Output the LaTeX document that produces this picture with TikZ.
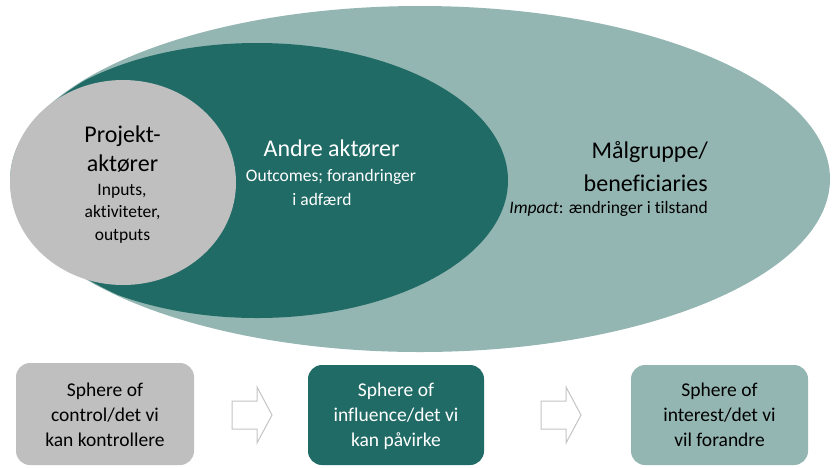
\documentclass[tikz,border=0pt]{standalone}
\usepackage{fontspec}
\setmainfont{Carlito}[Ligatures=NoCommon]
\definecolor{lightteal}{HTML}{93B6B2}
\definecolor{darkteal}{HTML}{216B66}
\definecolor{greyfill}{HTML}{BFBFBF}
\definecolor{arrowline}{HTML}{C4C4C4}
\begin{document}
\begin{tikzpicture}[x=1pt,y=-1pt,
  big/.style={font=\fontsize{24}{29}\selectfont, inner sep=0pt, anchor=base},
  small/.style={font=\fontsize{17.5}{22}\selectfont, inner sep=0pt, anchor=base},
  boxtxt/.style={font=\fontsize{19.5}{25}\selectfont, inner sep=0pt, anchor=base},
  sphere/.style={rounded corners=14pt, draw=none},
  blockarrow/.style={draw=arrowline, line width=1pt, fill=white, line join=miter}]
\useasboundingbox (0,0) rectangle (832,467);
% ellipses
\fill[lightteal] (420,179) ellipse [x radius=410pt, y radius=173pt];
\begin{scope}
  \clip (420,179) ellipse [x radius=409pt, y radius=172pt];
  \fill[darkteal] (257,180.5) ellipse [x radius=251pt, y radius=137.5pt];
\end{scope}
\fill[greyfill] (123,182.5) ellipse [x radius=113pt, y radius=102.5pt];
% grey ellipse text
\node[big] (p1) at (122.5,142.7) {Projekt-};
\node[big] (p2) at (122.5,171.7) {aktører};
\node[small] (p3) at (122,195) {Inputs,};
\node[small] (p4) at (122.5,217) {aktiviteter,};
\node[small] (p5) at (122.5,240) {outputs};
% dark ellipse text
\node[big, text=white] (a1) at (331.5,156.7) {Andre aktører};
\node[small, text=white] (a2) at (331,181.7) {Outcomes; forandringer};
\node[small, text=white] (a3) at (322,205) {i adfærd};
% outer ellipse text
\node[big, anchor=base east] (m1) at (708,158.3) {Målgruppe/};
\node[big, anchor=base east] (m2) at (708,191.7) {beneficiaries};
\node[small, anchor=base east] (m3) at (708,213.3) {{\itshape Impact}: ændringer i tilstand};
% boxes
\fill[greyfill, sphere] (16,363) rectangle (194,465);
\fill[darkteal, sphere] (308,365) rectangle (484,465);
\fill[lightteal, sphere] (631,365) rectangle (808,465);
\node[boxtxt] (b11) at (105,396.7) {Sphere of};
\node[boxtxt] (b12) at (105,421.7) {control/det vi};
\node[boxtxt] (b13) at (105,446.7) {kan kontrollere};
\node[boxtxt, text=white] (b21) at (396,396.7) {Sphere of};
\node[boxtxt, text=white] (b22) at (396,421.7) {influence/det vi};
\node[boxtxt, text=white] (b23) at (396,446.7) {kan påvirke};
\node[boxtxt] (b31) at (719.5,396.7) {Sphere of};
\node[boxtxt] (b32) at (719.5,421.7) {interest/det vi};
\node[boxtxt] (b33) at (719.5,446.7) {vil forandre};
% block arrows
\draw[blockarrow] (232,401) -- (257,401) -- (257,387) -- (272,415) -- (257,443) -- (257,429) -- (232,429) -- cycle;
\draw[blockarrow] (541,401) -- (566,401) -- (566,387) -- (581,415) -- (566,443) -- (566,429) -- (541,429) -- cycle;
\end{tikzpicture}
\end{document}
